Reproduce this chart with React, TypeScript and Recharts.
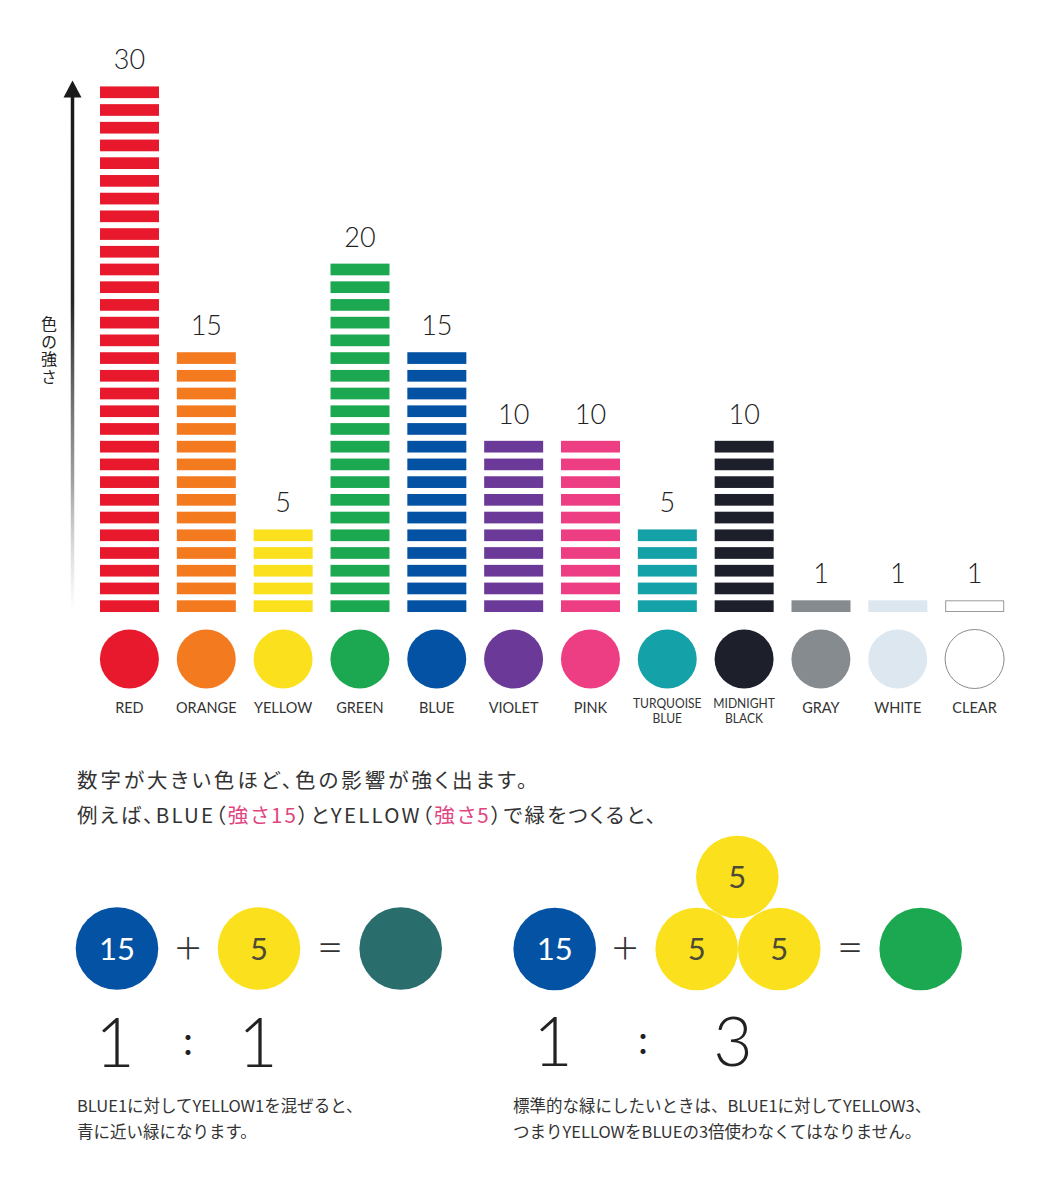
import React from 'react';
import { BarChart, Bar, XAxis, YAxis, LabelList } from 'recharts';

// 色ごとの「強さ」
const colorNames = ['RED', 'ORANGE', 'YELLOW', 'GREEN', 'BLUE', 'VIOLET', 'PINK', 'TURQUOISE BLUE', 'MIDNIGHT BLACK', 'GRAY', 'WHITE', 'CLEAR'];
const strengths = [30, 15, 5, 20, 15, 10, 10, 5, 10, 1, 1, 1];
const colorHex = ['#E8192C', '#F47A20', '#FBE11D', '#1CA851', '#0352A3', '#6B3A98', '#EE3E83', '#15A1A8', '#1D1F2B', '#868B90', '#DCE7F0', '#FFFFFF'];

const axisLabel = '色の強さ';

const introLine1 = '数字が大きい色ほど、色の影響が強く出ます。';
const introLine2 = ['例えば、BLUE（', '強さ15', '）とYELLOW（', '強さ5', '）で緑をつくると、'];

const noteLeft = ['BLUE1に対してYELLOW1を混ぜると、', '青に近い緑になります。'];
const noteRight = ['標準的な緑にしたいときは、BLUE1に対してYELLOW3、', 'つまりYELLOWをBLUEの3倍使わなくてはなりません。'];

const ratioLeft = ['1', '1'];
const ratioRight = ['1', '3'];

const LATIN = 'Lato, "Noto Sans", sans-serif';
const JP = '"Noto Sans CJK JP", "Noto Sans", sans-serif';

const data = colorNames.map((name, i) => ({ name, strength: strengths[i], color: colorHex[i] }));

const StripedBar = (props: any) => {
    const { x, y, width, height, payload } = props;
    const n = payload.strength;
    const unit = height / n;
    const h = unit * 0.66;
    const clear = payload.name === 'CLEAR';
    return (
        <g>
            {Array.from({ length: n }, (_, i) => (
                <rect key={i}
                      x={clear ? x + 0.5 : x}
                      y={y + i * unit + unit - h + (clear ? 0.5 : 0)}
                      width={clear ? width - 1 : width}
                      height={clear ? h - 1 : h}
                      fill={payload.color}
                      stroke={clear ? '#9a9a9a' : 'none'}
                      strokeWidth={1}/>
            ))}
        </g>
    );
};

const ValueLabel = (props: any) => {
    const { x, y, width, value } = props;
    return (
        <text x={x + width / 2} y={y - 11} textAnchor="middle" fontSize={27} fontWeight={300}
              fontFamily={LATIN} fill="#222">{value}</text>
    );
};

const ColorTick = (props: any) => {
    const { x, y, payload } = props;
    const i = colorNames.indexOf(payload.value);
    const lines: string[] = payload.value.split(' ');
    return (
        <g>
            <circle cx={x} cy={y + 47} r={29.5} fill={colorHex[i]}
                    stroke={payload.value === 'CLEAR' ? '#8a8a8a' : 'none'} strokeWidth={1}/>
            {lines.length === 1 ? (
                <text x={x} y={y + 101.3} textAnchor="middle" fontSize={14.5} fontFamily={LATIN} fill="#333">{lines[0]}</text>
            ) : (
                lines.map((l, k) => (
                    <text key={k} x={x} y={y + 95.6 + k * 15.6} textAnchor="middle" fontSize={13} fontFamily={LATIN} fill="#333"
                          transform={`translate(${x} 0) scale(0.93 1) translate(${-x} 0)`}>{l}</text>
                ))
            )}
        </g>
    );
};

const ArrowAxis = (props: any) => {
    const { x, y, width, height } = props.viewBox;
    const ax = x + width - 18.5;
    return (
        <g>
            <defs>
                <linearGradient id="shaftFade" x1="0" y1="0" x2="0" y2="1">
                    <stop offset="0" stopColor="#1a1a1a" stopOpacity={1}/>
                    <stop offset="0.4" stopColor="#1a1a1a" stopOpacity={0.95}/>
                    <stop offset="0.75" stopColor="#555" stopOpacity={0.55}/>
                    <stop offset="1" stopColor="#999" stopOpacity={0}/>
                </linearGradient>
            </defs>
            <polygon points={`${ax},${y} ${ax - 9},${y + 17} ${ax + 9},${y + 17}`} fill="#1a1a1a"/>
            <rect x={ax - 1.75} y={y + 15} width={3.5} height={height - 15} fill="url(#shaftFade)"/>
            <text x={49} y={y + 271} textAnchor="middle" fontSize={16} fontFamily={JP} fill="#222"
                  letterSpacing={1.5} style={{ writingMode: 'vertical-rl' }}>{axisLabel}</text>
        </g>
    );
};

const Disc = ({ cx, cy, fill, label, ink }: { cx: number, cy: number, fill: string, label?: string, ink?: string }) => (
    <g>
        <circle cx={cx} cy={cy} r={41.3} fill={fill}/>
        {label && (
            <text x={cx} y={cy + 11} textAnchor="middle" fontSize={31} fontFamily={LATIN} fill={ink}>{label}</text>
        )}
    </g>
);

const Sign = ({ x, y, s }: { x: number, y: number, s: string }) => (
    <text x={x} y={y + 14} textAnchor="middle" fontSize={46} fontWeight={300} fontFamily={LATIN} fill="#333">{s}</text>
);

const Ratio = ({ xs, y, r }: { xs: number[], y: number, r: string[] }) => (
    <g fill="#222" fontFamily={LATIN}>
        <text x={xs[0]} y={y} textAnchor="middle" fontSize={68} fontWeight={300}>{r[0]}</text>
        <text x={xs[1]} y={y - 12} textAnchor="middle" fontSize={40}>:</text>
        <text x={xs[2]} y={y} textAnchor="middle" fontSize={68} fontWeight={300}>{r[1]}</text>
    </g>
);

const App = () => {
    return (
        <div style={{ position: 'absolute', left: 0, top: 0, width: 1054, height: 1202, background: '#fff' }}>
            <div style={{ position: 'absolute', left: 0, top: 0 }}>
                <BarChart width={1054} height={740} data={data}
                          margin={{ top: 80.4, right: 41, bottom: 0, left: 0 }}>
                    <XAxis dataKey="name" interval={0} height={128} axisLine={false} tickLine={false}
                           tickSize={0} tickMargin={0} tick={<ColorTick/>}/>
                    <YAxis width={91} domain={[0, 30]} tick={false} tickLine={false} axisLine={false}
                           label={ArrowAxis}/>
                    <Bar dataKey="strength" barSize={59} shape={<StripedBar/>} isAnimationActive={false}>
                        <LabelList dataKey="strength" content={ValueLabel}/>
                    </Bar>
                </BarChart>
            </div>
            <svg width={1054} height={1202} style={{ position: 'absolute', left: 0, top: 0, pointerEvents: 'none' }}>
                <g fontFamily={JP} fill="#333" fontSize={20.5} style={{ fontFeatureSettings: '"palt"' }}>
                    <text x={77} y={788} letterSpacing={3}>{introLine1}</text>
                    <text x={77} y={823} letterSpacing={2.2}>
                        {introLine2.map((t, k) => (
                            <tspan key={k} fill={k % 2 === 1 ? '#E0457F' : '#333'}>{t}</tspan>
                        ))}
                    </text>
                </g>

                <Disc cx={117} cy={948.5} fill="#0352A3" label="15" ink="#fff"/>
                <Sign x={188} y={948.5} s="+"/>
                <Disc cx={259} cy={948.5} fill="#FBE11D" label="5" ink="#4d4a36"/>
                <Sign x={330} y={948.5} s="="/>
                <Disc cx={400.7} cy={948.5} fill="#296D6C"/>
                <Ratio xs={[115, 188, 258]} y={1067} r={ratioLeft}/>

                <Disc cx={554.7} cy={949} fill="#0352A3" label="15" ink="#fff"/>
                <Sign x={625} y={949} s="+"/>
                <Disc cx={737.3} cy={877} fill="#FBE11D" label="5" ink="#4d4a36"/>
                <Disc cx={696.7} cy={949} fill="#FBE11D" label="5" ink="#4d4a36"/>
                <Disc cx={779.3} cy={949} fill="#FBE11D" label="5" ink="#4d4a36"/>
                <Sign x={850} y={949} s="="/>
                <Disc cx={920.7} cy={949} fill="#1CA851"/>
                <Ratio xs={[553, 643, 733]} y={1066} r={ratioRight}/>

                <g fontFamily={JP} fill="#333" fontSize={16.5}>
                    {noteLeft.map((t, k) => <text key={k} x={77} y={1112 + k * 26}>{t}</text>)}
                    {noteRight.map((t, k) => <text key={k} x={513} y={1112 + k * 26}>{t}</text>)}
                </g>
            </svg>
        </div>
    );
};

export default App;
